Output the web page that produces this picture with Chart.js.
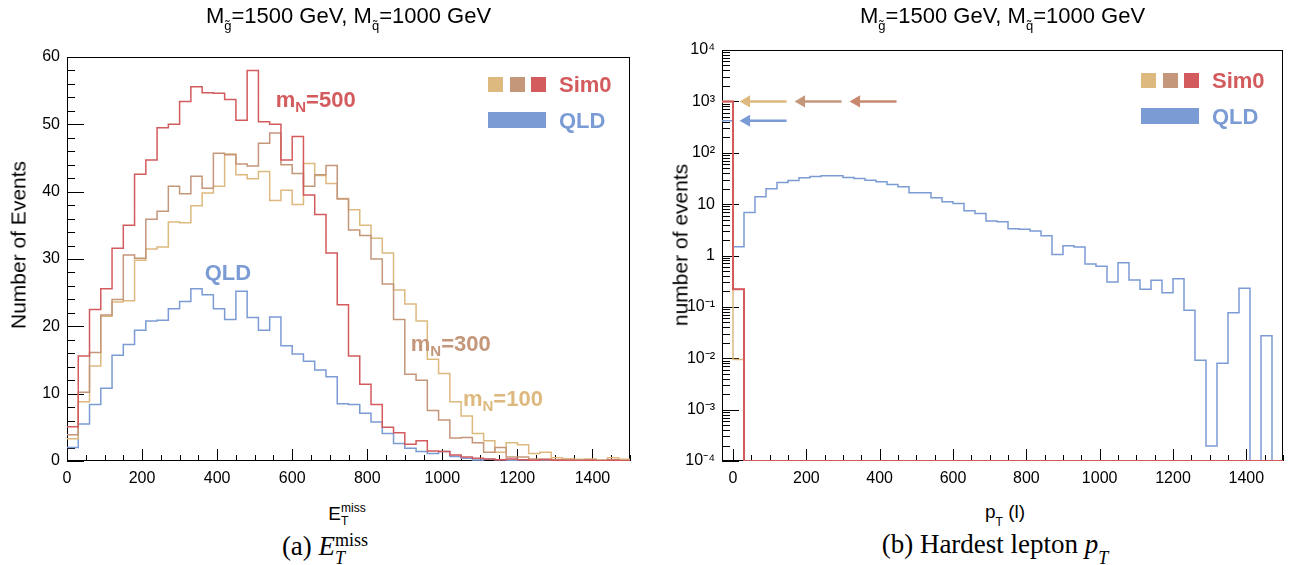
<!DOCTYPE html>
<html>
<head>
<meta charset="utf-8">
<script src="https://cdn.jsdelivr.net/npm/chart.js@4.4.1/dist/chart.umd.min.js"></script>
<style>
  body { margin: 0; background: #fff; }
  #page { position: relative; width: 1291px; height: 565px; overflow: hidden;
          font-family: "Liberation Sans", Arial, sans-serif; color: #000; }
  canvas { position: absolute; top: 0; }
  .t { position: absolute; white-space: nowrap; line-height: 1; }
  .title { font-size: 22px; text-align: center; top: 5px; }
  .title sub { font-size: 13px; vertical-align: -7px; line-height: 0; }
  .ytitle { font-size: 21px; transform: translate(-50%, -50%) rotate(-90deg); }
  .xtitle { font-size: 19px; transform: translateX(-50%); top: 502px; }
  .ss { display: inline-block; vertical-align: -5px; font-size: 12px; line-height: 1.05; text-align: left; }
  .ss span { display: block; }
  .cap { font-family: "Liberation Serif", "DejaVu Serif", serif; font-size: 27px;
         transform: translateX(-50%); top: 531px; }
  .cap .ss { font-size: 18px; vertical-align: -9px; line-height: 1; }
</style>
</head>
<body>
<div id="page">
  <canvas id="met" width="645" height="500" style="left:0"></canvas>
  <canvas id="lep" width="646" height="500" style="left:645px"></canvas>

  <div class="t title" style="left:0;width:697px">M<sub>g&#771;</sub>=1500 GeV, M<sub>q&#771;</sub>=1000 GeV</div>
  <div class="t title" style="left:722px;width:561px">M<sub>g&#771;</sub>=1500 GeV, M<sub>q&#771;</sub>=1000 GeV</div>

  <div class="t ytitle" style="left:18px;top:245px">Number of Events</div>
  <div class="t ytitle" style="left:680px;top:245px">number of events</div>

  <div class="t xtitle" style="left:347px">E<span class="ss"><span>miss</span><span>T</span></span></div>
  <div class="t xtitle" style="left:1005px">p<span class="ss" style="vertical-align:-8px"><span>T</span></span> (l)</div>

  <div class="t cap" style="left:325px">(a) <i>E</i><span class="ss"><span>miss</span><span><i>T</i></span></span></div>
  <div class="t cap" style="left:995px">(b) Hardest lepton <i>p</i><span class="ss" style="vertical-align:-11px"><span><i>T</i></span></span></div>
</div>

<script>
/* global Chart */
// E_T^miss histograms: 30 GeV bins starting at 0
const metLow = 0;
const binWidth = 30;
const metMN500 = [5.1, 15.6, 22.5, 25.6, 31.6, 35.0, 42.6, 44.7, 49.5, 50.0,
  53.4, 55.6, 54.7, 54.6, 53.7, 50.6, 58.0, 50.4, 50.0, 44.7,
  48.2, 39.5, 36.6, 30.9, 23.2, 15.6, 11.4, 8.4, 5.0, 4.2,
  2.5, 3.0, 1.5, 1.4, 0.9, 0.6, 0.4, 0.3, 0.2, 0.3,
  0.2, 0.1, 0.2, 0.1, 0.1, 0.05, 0.1, 0.05, 0.1, 0.05];
const metMN300 = [3.9, 10.2, 16.1, 21.7, 24.0, 30.6, 30.1, 35.9, 37.1, 40.8,
  39.7, 42.3, 40.5, 45.7, 45.5, 44.1, 43.8, 47.2, 48.7, 44.0,
  42.7, 40.8, 42.5, 43.9, 38.9, 34.3, 33.5, 30.0, 26.3, 21.0,
  12.9, 12.0, 7.5, 6.1, 3.4, 3.5, 2.7, 1.3, 2.0, 0.6,
  0.6, 0.3, 0.3, 0.2, 0.1, 0.2, 0.1, 0.1, 0.2, 0.1];
const metMN100 = [3.3, 8.8, 14.1, 21.5, 23.6, 23.8, 29.8, 31.5, 31.8, 35.5,
  35.4, 37.9, 39.8, 40.8, 45.6, 42.5, 41.9, 43.0, 38.7, 40.2,
  38.1, 44.2, 42.4, 41.2, 39.0, 37.3, 35.0, 33.1, 30.9, 25.4,
  23.3, 20.8, 15.1, 13.0, 8.8, 6.7, 4.1, 3.0, 1.3, 2.7,
  2.4, 1.1, 1.3, 0.5, 0.35, 0.25, 0.3, 0.15, 0.5, 0.25];
const metQLD = [2.0, 5.5, 8.4, 10.8, 15.7, 17.3, 19.4, 20.8, 20.9, 22.6,
  23.7, 25.6, 24.7, 22.6, 21.0, 25.2, 21.3, 19.4, 21.4, 17.1,
  15.9, 14.8, 13.5, 12.5, 8.5, 8.4, 7.1, 5.8, 4.1, 2.6,
  1.9, 1.4, 1.1, 1.4, 0.65, 0.4, 0.15, 0.25, 0.2, 0.1,
  0.15, 0.1, 0.1, 0.05, 0.1, 0.05, 0.1, 0.05, 0.05, 0.05];

// hardest lepton pT histograms: 30 GeV bins starting at -30 (first bin = no lepton)
const ptLow = -30;
const ptMN500 = [1000, 0.22, 0, 0, 0, 0, 0, 0, 0, 0,
  0, 0, 0, 0, 0, 0, 0, 0, 0, 0,
  0, 0, 0, 0, 0, 0, 0, 0, 0, 0,
  0, 0, 0, 0, 0, 0, 0, 0, 0, 0,
  0, 0, 0, 0, 0, 0, 0, 0, 0, 0, 0];
const ptMN300 = [1000, 0.22, 0, 0, 0, 0, 0, 0, 0, 0,
  0, 0, 0, 0, 0, 0, 0, 0, 0, 0,
  0, 0, 0, 0, 0, 0, 0, 0, 0, 0,
  0, 0, 0, 0, 0, 0, 0, 0, 0, 0,
  0, 0, 0, 0, 0, 0, 0, 0, 0, 0, 0];
const ptMN100 = [1000, 0.0095, 0, 0, 0, 0, 0, 0, 0, 0,
  0, 0, 0, 0, 0, 0, 0, 0, 0, 0,
  0, 0, 0, 0, 0, 0, 0, 0, 0, 0,
  0, 0, 0, 0, 0, 0, 0, 0, 0, 0,
  0, 0, 0, 0, 0, 0, 0, 0, 0, 0, 0];
const ptQLD = [420, 1.48, 6.9, 13.9, 19.9, 26.4, 28.8, 32.5, 34.5, 35.6,
  35.6, 33.0, 31.5, 29.3, 27.2, 24.1, 21.7, 16.6, 16.6, 13.3,
  11.1, 10.3, 7.4, 6.6, 4.7, 4.56, 3.33, 3.23, 3.0, 2.43,
  1.05, 1.55, 1.47, 0.68, 0.615, 0.305, 0.725, 0.333, 0.22, 0.329,
  0.189, 0.354, 0.0857, 0.0091, 0.000195, 0.008, 0.077, 0.23, 0, 0.0275, 0];

// overflow arrows on the pT plot (tan, brown, red, blue)
const arrowHeadX = [37, 187, 337, 37];
const arrowTailX = [146, 296, 446, 146];
const arrowY = [1000, 1000, 1000, 420];

const logFloor = 1e-4; // y-axis minimum of the pT plot; empty bins sit on it

const cTan = "#DDB97F";
const cBrown = "#C4967A";
const cRed = "#D35B5D";
const cBlue = "#7B9BD4";
const arrowColors = [cTan, cBrown, "#C98870", cBlue];

const FONT = "Liberation Sans";

// narrow Helvetica look for tick labels when the narrow face is installed
function hasFont(name) {
  const c = document.createElement("canvas").getContext("2d");
  c.font = "40px monospace";
  const w1 = c.measureText("1400 mmm").width;
  c.font = "40px '" + name + "', monospace";
  return c.measureText("1400 mmm").width !== w1;
}
const tickFont = hasFont("Liberation Sans Narrow")
  ? { family: "Liberation Sans Narrow", size: 18 }
  : { family: FONT, size: 16 };

// histogram -> step points (left edges + closing right edge)
// floor: empty bins are drawn on the axis floor (log axes drop zeros)
function steps(lo, vals, floor) {
  const yv = (v) => (floor && v <= 0 ? floor : v);
  const pts = vals.map((v, i) => ({ x: lo + i * binWidth, y: yv(v) }));
  pts.push({ x: lo + vals.length * binWidth, y: yv(vals[vals.length - 1]) });
  return pts;
}

function histSet(label, lo, vals, color, width = 1.5, floor = 0) {
  return {
    label: label,
    data: steps(lo, vals, floor),
    borderColor: color,
    backgroundColor: color,
    borderWidth: width,
    stepped: true,
    pointRadius: 0,
    fill: false,
  };
}

const supMap = { "-": "\u207B", "0": "\u2070", "1": "\u00B9", "2": "\u00B2", "3": "\u00B3", "4": "\u2074" };

// ROOT-like frame with inward ticks, legend and text notes
const rootStyle = {
  id: "rootStyle",
  beforeDatasetsDraw(chart, args, o) {
    const { ctx, chartArea: a } = chart;
    const xs = chart.scales.x;
    const ys = chart.scales.y;
    ctx.save();
    ctx.strokeStyle = "#000";
    ctx.lineWidth = 1;
    ctx.beginPath();
    const xMinor = o.xStep / o.xDiv;
    for (let v = Math.ceil(xs.min / xMinor) * xMinor; v <= xs.max + 1e-9; v += xMinor) {
      const px = Math.round(xs.getPixelForValue(v)) + 0.5;
      const major = Math.abs(v / o.xStep - Math.round(v / o.xStep)) < 1e-6;
      ctx.moveTo(px, a.bottom);
      ctx.lineTo(px, a.bottom - (major ? 12 : 6));
    }
    const yTicks = [];
    if (ys.type === "logarithmic") {
      for (let e = Math.round(Math.log10(ys.min)); e < Math.round(Math.log10(ys.max)) + 1; e++) {
        for (let k = 1; k <= 9; k++) {
          const v = k * Math.pow(10, e);
          if (v <= ys.max * 1.0001) yTicks.push({ v: v, major: k === 1 });
        }
      }
    } else {
      const yMinor = o.yStep / o.yDiv;
      for (let v = ys.min; v <= ys.max + 1e-9; v += yMinor) {
        yTicks.push({ v: v, major: Math.abs(v / o.yStep - Math.round(v / o.yStep)) < 1e-6 });
      }
    }
    yTicks.forEach((t) => {
      const py = Math.round(ys.getPixelForValue(t.v)) + 0.5;
      ctx.moveTo(a.left, py);
      ctx.lineTo(a.left + (t.major ? 17 : 8), py);
    });
    ctx.stroke();
    ctx.strokeRect(Math.round(a.left) + 0.5, Math.round(a.top) + 0.5,
      Math.round(a.width) - 1, Math.round(a.height) - 1);
    ctx.restore();
  },
  afterDatasetsDraw(chart, args, o) {
    const { ctx, chartArea: a } = chart;
    const xs = chart.scales.x;
    const ys = chart.scales.y;
    ctx.save();
    // legend
    const x0 = Math.round(a.right - 142);
    const y0 = Math.round(a.top + o.legendDy);
    [cTan, cBrown, cRed].forEach((c, i) => {
      ctx.fillStyle = c;
      ctx.fillRect(x0 + Math.round(i * 21.5), y0, 15, 15);
    });
    ctx.fillStyle = cBlue;
    ctx.fillRect(x0, y0 + 35, 58, 16);
    ctx.font = "bold 22px '" + FONT + "'";
    ctx.textBaseline = "alphabetic";
    ctx.fillStyle = cRed;
    ctx.fillText("Sim0", a.right - 71, y0 + 15);
    ctx.fillStyle = cBlue;
    ctx.fillText("QLD", a.right - 71, y0 + 51);
    // notes
    (o.notes || []).forEach((n) => {
      let px = xs.getPixelForValue(n.x);
      const base = ys.getPixelForValue(n.y) + 8;
      ctx.fillStyle = n.color;
      ctx.font = "bold 22px '" + FONT + "'";
      ctx.fillText(n.head, px, base);
      px += ctx.measureText(n.head).width;
      if (n.sub) {
        ctx.font = "bold 15px '" + FONT + "'";
        ctx.fillText(n.sub, px, base + 5);
        px += ctx.measureText(n.sub).width;
        ctx.font = "bold 22px '" + FONT + "'";
      }
      if (n.tail) ctx.fillText(n.tail, px, base);
    });
    ctx.restore();
  },
};

function makeChart(id, datasets, yScale, plugOpts, padding, yWidth, xMin) {
  return new Chart(document.getElementById(id), {
    type: "line",
    data: { datasets: datasets },
    plugins: [rootStyle],
    options: {
      responsive: false,
      animation: false,
      layout: { padding: padding },
      elements: { line: { tension: 0 } },
      scales: {
        x: {
          type: "linear",
          min: xMin,
          max: 1500,
          grid: { display: false, drawTicks: false },
          border: { display: false },
          ticks: {
            stepSize: 200,
            includeBounds: false,
            autoSkip: false,
            maxRotation: 0,
            padding: 8,
            color: "#000",
            font: tickFont,
            callback: (v) => String(v),
          },
          afterFit: (s) => { s.height = 39; },
        },
        y: Object.assign({
          grid: { display: false, drawTicks: false },
          border: { display: false },
          afterFit: (s) => { s.width = yWidth; },
        }, yScale),
      },
      plugins: {
        legend: { display: false },
        tooltip: { enabled: false },
        rootStyle: plugOpts,
      },
    },
  });
}

// left: missing transverse energy
makeChart("met", [
  histSet("mN=500", metLow, metMN500, cRed),
  histSet("mN=300", metLow, metMN300, cBrown),
  histSet("mN=100", metLow, metMN100, cTan),
  histSet("QLD", metLow, metQLD, cBlue),
], {
  type: "linear",
  min: 0,
  max: 60,
  ticks: { stepSize: 10, padding: 7, color: "#000", font: tickFont, callback: (v) => String(v) },
}, {
  xStep: 200, xDiv: 4, yStep: 10, yDiv: 5, legendDy: 20,
  notes: [
    { x: 556, y: 53.8, head: "m", sub: "N", tail: "=500", color: cRed },
    { x: 916, y: 17.5, head: "m", sub: "N", tail: "=300", color: cBrown },
    { x: 1055, y: 9.4, head: "m", sub: "N", tail: "=100", color: cTan },
    { x: 367, y: 28.1, head: "QLD", sub: "", tail: "", color: cBlue },
  ],
}, { top: 57, right: 15, left: 0, bottom: 0 }, 67, metLow);

// right: hardest lepton pT (log scale)
const arrowSets = arrowHeadX.map((hx, i) => ({
  label: "arrow" + i,
  data: [{ x: hx, y: arrowY[i] }, { x: arrowTailX[i], y: arrowY[i] }],
  borderColor: arrowColors[i],
  backgroundColor: arrowColors[i],
  borderWidth: 2.5,
  pointStyle: "triangle",
  pointRotation: 270,
  pointRadius: [7, 0],
  pointBorderWidth: 0,
  fill: false,
}));

makeChart("lep", [
  histSet("mN=500", ptLow, ptMN500, cRed, 2, logFloor),
  histSet("mN=300", ptLow, ptMN300, cBrown, 1.5, logFloor),
  histSet("mN=100", ptLow, ptMN100, cTan, 1.5, logFloor),
  histSet("QLD", ptLow, ptQLD, cBlue, 1.5, logFloor),
].concat(arrowSets), {
  type: "logarithmic",
  min: logFloor,
  max: 1e4,
  ticks: {
    autoSkip: false,
    padding: 7,
    color: "#000",
    font: tickFont,
    callback: (v) => {
      const e = Math.log10(v);
      if (Math.abs(e - Math.round(e)) > 1e-6) return "";
      const n = Math.round(e);
      if (n === 0) return "1";
      if (n === 1) return "10";
      return "10" + String(n).split("").map((c) => supMap[c]).join("");
    },
  },
}, { xStep: 200, xDiv: 4, legendDy: 23 },
{ top: 50, right: 8, left: 0, bottom: 0 }, 77, ptLow);
</script>
</body>
</html>
